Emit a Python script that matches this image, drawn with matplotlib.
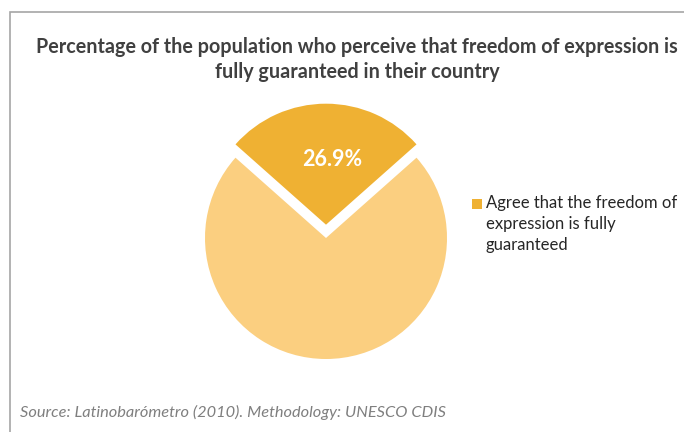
import matplotlib
matplotlib.use("Agg")
import matplotlib.pyplot as plt
from matplotlib.patches import Rectangle

values = [26.9, 73.1]
labels = ["Agree that the freedom of\nexpression is fully\nguaranteed", ""]
pct_labels = ["26.9%"]
title_lines = ["Percentage of the population who perceive that freedom of expression is",
               "fully guaranteed in their country"]
source = "Source: Latinobarómetro (2010). Methodology: UNESCO CDIS"
colors = ["#EFB133", "#FBCF80"]

W, H = 684, 432
fig = plt.figure(figsize=(W / 100, H / 100), dpi=100)
fig.patch.set_facecolor("white")

# frame
fig.patches.append(Rectangle((10 / W, -0.1), 1.1, (H - 12) / H + 0.1, transform=fig.transFigure,
                             fill=False, edgecolor="#A6A6A6", lw=1.2))

cx, cy, R = 326, 238, 121
half = 160
ax = fig.add_axes([(cx - half) / W, (H - cy - half) / H, 2 * half / W, 2 * half / H])
start = 90 - values[0] / sum(values) * 180
wedges, _ = ax.pie(values, colors=colors, startangle=start, explode=[0.11, 0],
                   radius=1, wedgeprops=dict(linewidth=0))
ax.set_xlim(-half / R, half / R)
ax.set_ylim(-half / R, half / R)
ax.set_aspect("equal")
ax.axis("off")
ax.text(0.05, 0.645, pct_labels[0], ha="center", va="center", color="white",
        fontsize=15.5, fontweight="bold", family="Lato")

for line, y in zip(title_lines, [47, 72]):
    fig.text(357 / W, 1 - y / H, line, ha="center", va="center", fontsize=14.2, fontweight="bold",
             color="#404040", family="Lato")

# legend (marker aligned with first line, as in the reference)
fig.patches.append(Rectangle((472 / W, 1 - 209 / H), 10 / W, 10 / H, transform=fig.transFigure,
                             facecolor=wedges[0].get_facecolor(), edgecolor="none"))
fig.text(486 / W, 1 - 195 / H, labels[0], ha="left", va="top", fontsize=12, family="Lato",
         color="#262626", linespacing=1.38)

fig.text(20 / W, 1 - 412 / H, source, ha="left", va="center", fontsize=11.8, style="italic",
         color="#7F7F7F", family="Lato")

fig.savefig("out.png", dpi=100)
